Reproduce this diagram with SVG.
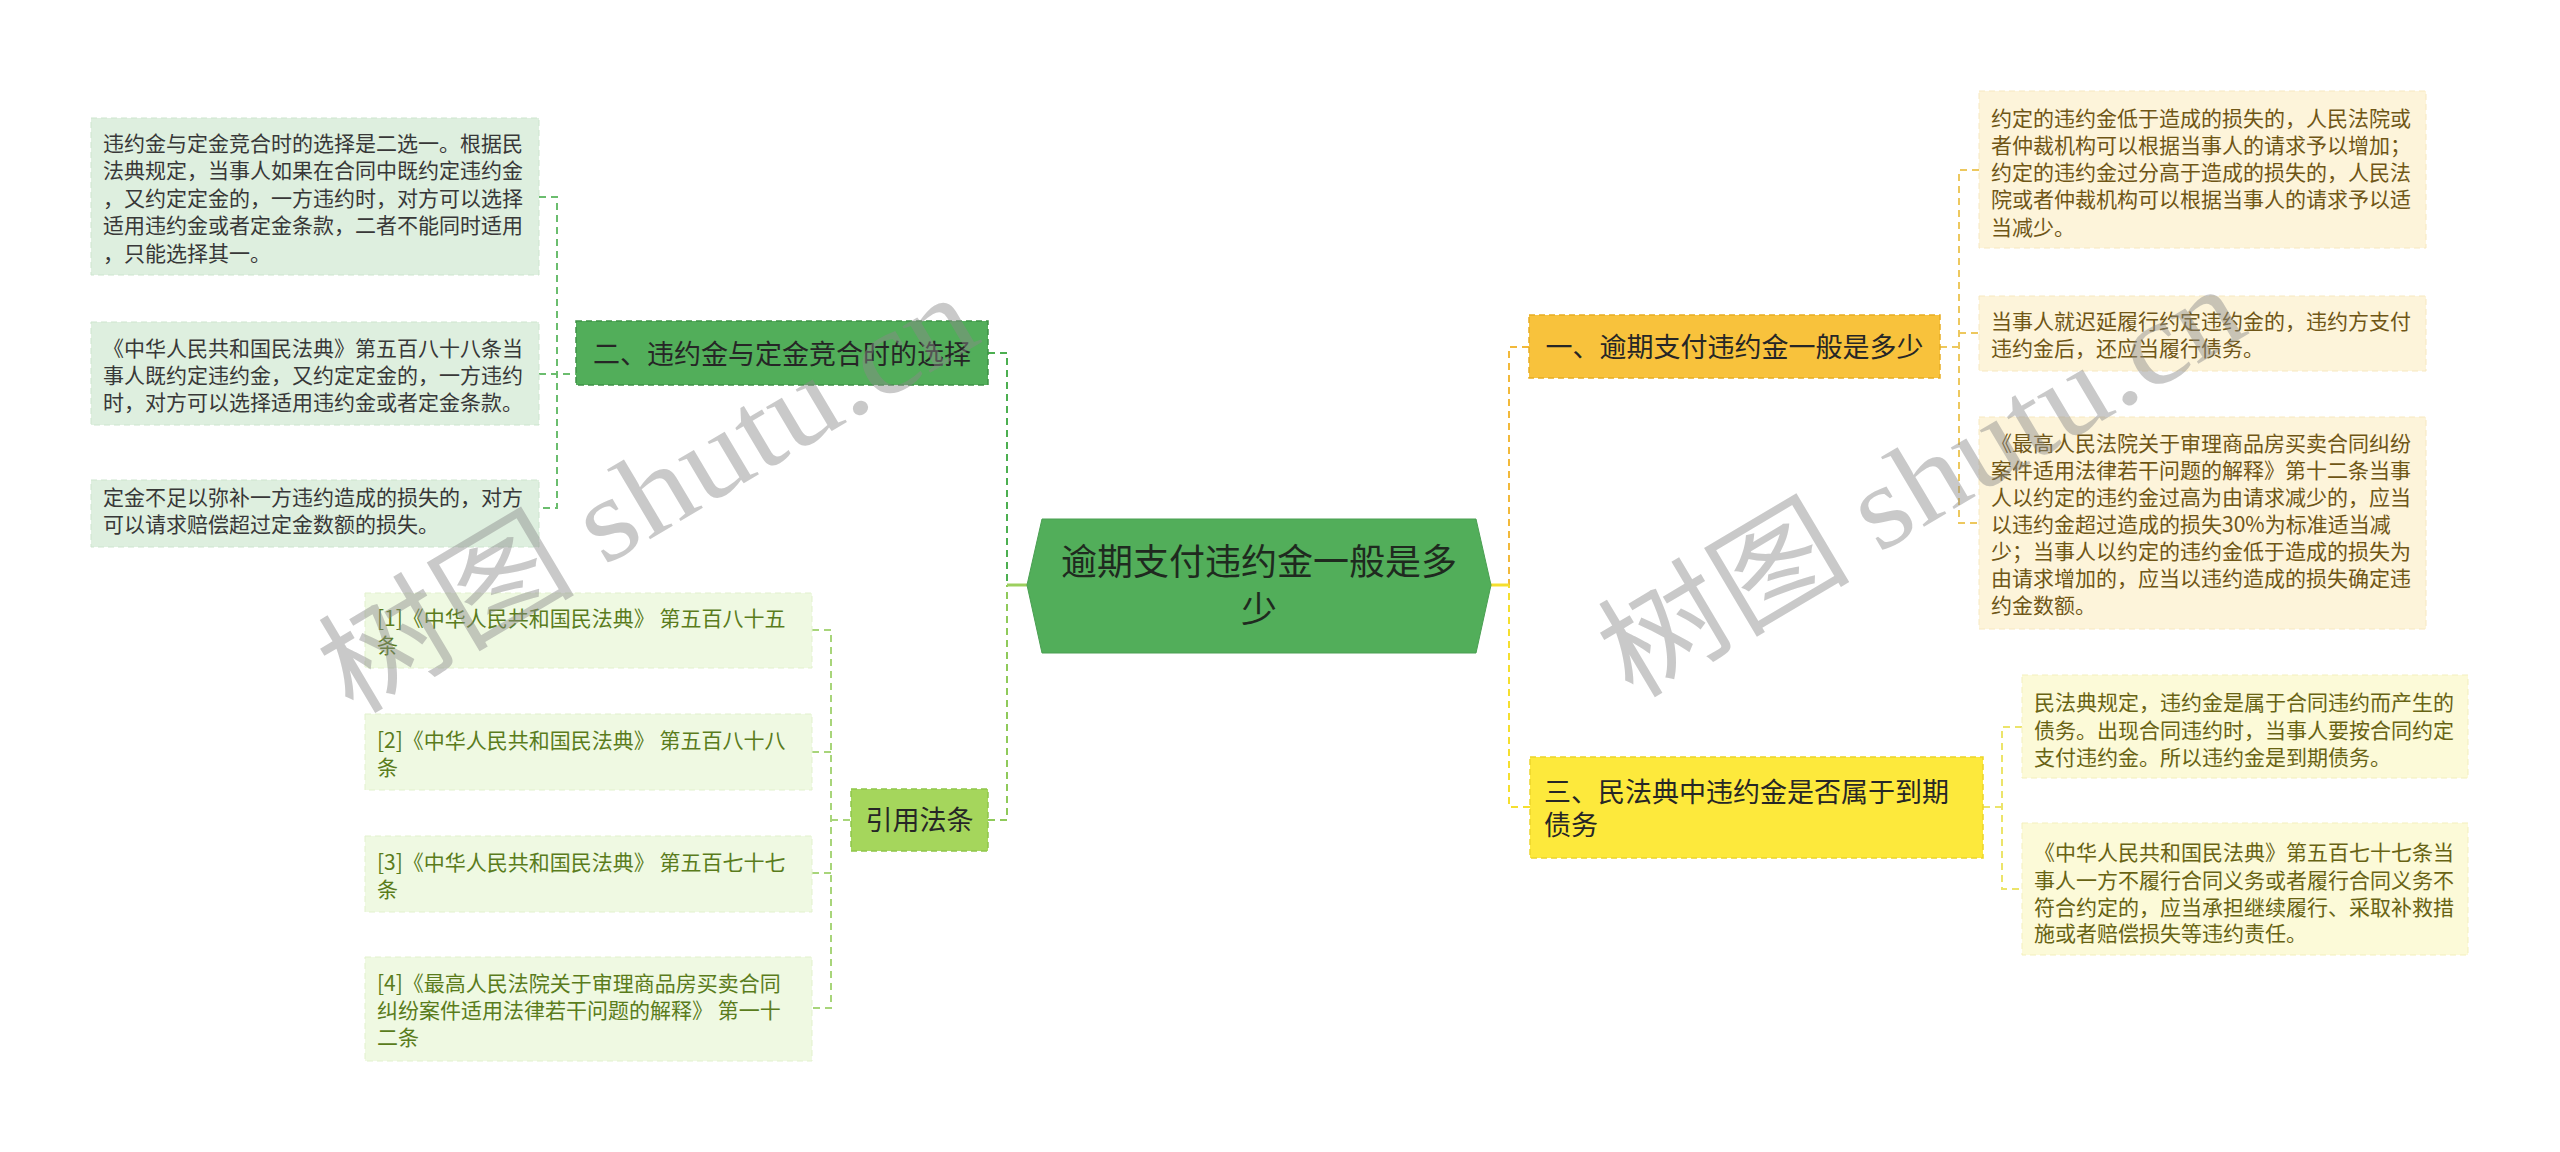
<svg xmlns="http://www.w3.org/2000/svg" width="2560" height="1152" viewBox="0 0 2560 1152">
<style>
text{font-family:"Noto Sans CJK SC","Noto Sans",sans-serif}
.t21{font-size:21px}
.t27{font-size:27px;fill:#262626}
.t36{font-size:36px;fill:#1f2a1f}
.c{fill:none;stroke-width:2;stroke-dasharray:7 5}
.g1{stroke:#4caf50}
.g2{stroke:#8fca5a}
.g3{stroke:#a8d57a}
.gd{stroke:#6bbd6e}
.o1{stroke:#f2b93a}
.o2{stroke:#edc85e}
.y1{stroke:#f5df2e}
.y2{stroke:#ece46a}
.lf-g rect{fill:#deefdf;stroke:#cde5ce;stroke-dasharray:6 4}
.lf-g text{fill:#383838}
.lf-c rect{fill:#eff9e2;stroke:#e2f1cd;stroke-dasharray:6 4}
.lf-c text{fill:#5a7c1c}
.lf-o rect{fill:#fdf4da;stroke:#f7e8c0;stroke-dasharray:6 4}
.lf-o text{fill:#6f5616}
.lf-y rect{fill:#fcfad8;stroke:#f3efbc;stroke-dasharray:6 4}
.lf-y text{fill:#686314}
.wm{fill:#8a8a8a;opacity:0.45;font-size:118px}
</style>

<g id="connectors">
  <path class="c g1" d="M988 353 H1007 V585"/>
  <path class="c g2" d="M988 820 H1007 V585"/>
  <path d="M1007 585 H1027" stroke="#9ccf5e" stroke-width="3" fill="none"/>
  <path class="c o1" d="M1529 347 H1509 V585"/>
  <path class="c y1" d="M1530 807 H1509 V585"/>
  <path d="M1491 585 H1509" stroke="#f5df2e" stroke-width="3" fill="none"/>
  <path class="c gd" d="M539 197 H557 V508 H539 M539 374 H576"/>
  <path class="c g3" d="M812 630 H831 V1008 H812 M812 752 H831 M812 873 H831 M831 820 H851"/>
  <path class="c o2" d="M1940 347 H1959 M1979 170 H1959 V523 H1979 M1959 333 H1979"/>
  <path class="c y2" d="M1983 807 H2002 M2022 727 H2002 V889 H2022"/>
</g>

<g id="root">
  <polygon points="1027,585 1042,519 1476,519 1491,585 1476,653 1042,653" fill="#52ae5a" stroke="#4a9f52" stroke-width="1"/>
  <text class="t36" x="1259" y="575" text-anchor="middle">逾期支付违约金一般是多</text>
  <text class="t36" x="1259" y="623" text-anchor="middle">少</text>
</g>

<g id="branch-2">
  <rect x="576" y="321" width="412" height="64" fill="#52ae5a" stroke="#3f9247" stroke-width="1.5" stroke-dasharray="6 4"/>
  <text class="t27" x="782" y="364" text-anchor="middle">二、违约金与定金竞合时的选择</text>
</g>

<g id="leaf-2-1" class="lf-g">
  <rect x="91" y="118" width="448" height="157"/>
  <text class="t21" x="103" y="151">违约金与定金竞合时的选择是二选一。根据民</text>
  <text class="t21" x="103" y="178">法典规定，当事人如果在合同中既约定违约金</text>
  <text class="t21" x="103" y="206">，又约定定金的，一方违约时，对方可以选择</text>
  <text class="t21" x="103" y="233">适用违约金或者定金条款，二者不能同时适用</text>
  <text class="t21" x="103" y="261">，只能选择其一。</text>
</g>
<g id="leaf-2-2" class="lf-g">
  <rect x="91" y="322" width="448" height="103"/>
  <text class="t21" x="103" y="356">《中华人民共和国民法典》第五百八十八条当</text>
  <text class="t21" x="103" y="383">事人既约定违约金，又约定定金的，一方违约</text>
  <text class="t21" x="103" y="410">时，对方可以选择适用违约金或者定金条款。</text>
</g>
<g id="leaf-2-3" class="lf-g">
  <rect x="91" y="480" width="448" height="67"/>
  <text class="t21" x="103" y="505">定金不足以弥补一方违约造成的损失的，对方</text>
  <text class="t21" x="103" y="532">可以请求赔偿超过定金数额的损失。</text>
</g>

<g id="branch-ref">
  <rect x="851" y="789" width="137" height="62" fill="#a5d65c" stroke="#8fc64a" stroke-width="1.5" stroke-dasharray="6 4"/>
  <text class="t27" x="919.5" y="830" text-anchor="middle">引用法条</text>
</g>
<g id="ref-1" class="lf-c">
  <rect x="365" y="593" width="447" height="75"/>
  <text class="t21" x="377" y="626">[1]《中华人民共和国民法典》 第五百八十五</text>
  <text class="t21" x="377" y="653">条</text>
</g>
<g id="ref-2" class="lf-c">
  <rect x="365" y="714" width="447" height="76"/>
  <text class="t21" x="377" y="748">[2]《中华人民共和国民法典》 第五百八十八</text>
  <text class="t21" x="377" y="775">条</text>
</g>
<g id="ref-3" class="lf-c">
  <rect x="365" y="836" width="447" height="76"/>
  <text class="t21" x="377" y="870">[3]《中华人民共和国民法典》 第五百七十七</text>
  <text class="t21" x="377" y="897">条</text>
</g>
<g id="ref-4" class="lf-c">
  <rect x="365" y="957" width="447" height="104"/>
  <text class="t21" x="377" y="991">[4]《最高人民法院关于审理商品房买卖合同</text>
  <text class="t21" x="377" y="1018">纠纷案件适用法律若干问题的解释》 第一十</text>
  <text class="t21" x="377" y="1045">二条</text>
</g>

<g id="branch-1">
  <rect x="1529" y="315" width="411" height="63" fill="#f8c23c" stroke="#e8ad22" stroke-width="1.5" stroke-dasharray="6 4"/>
  <text class="t27" x="1734.5" y="357" text-anchor="middle">一、逾期支付违约金一般是多少</text>
</g>
<g id="leaf-1-1" class="lf-o">
  <rect x="1979" y="91" width="447" height="157"/>
  <text class="t21" x="1991" y="126">约定的违约金低于造成的损失的，人民法院或</text>
  <text class="t21" x="1991" y="153">者仲裁机构可以根据当事人的请求予以增加；</text>
  <text class="t21" x="1991" y="180">约定的违约金过分高于造成的损失的，人民法</text>
  <text class="t21" x="1991" y="207">院或者仲裁机构可以根据当事人的请求予以适</text>
  <text class="t21" x="1991" y="235">当减少。</text>
</g>
<g id="leaf-1-2" class="lf-o">
  <rect x="1979" y="296" width="447" height="75"/>
  <text class="t21" x="1991" y="329">当事人就迟延履行约定违约金的，违约方支付</text>
  <text class="t21" x="1991" y="356">违约金后，还应当履行债务。</text>
</g>
<g id="leaf-1-3" class="lf-o">
  <rect x="1979" y="417" width="447" height="212"/>
  <text class="t21" x="1991" y="451">《最高人民法院关于审理商品房买卖合同纠纷</text>
  <text class="t21" x="1991" y="478">案件适用法律若干问题的解释》第十二条当事</text>
  <text class="t21" x="1991" y="505">人以约定的违约金过高为由请求减少的，应当</text>
  <text class="t21" x="1991" y="532">以违约金超过造成的损失30%为标准适当减</text>
  <text class="t21" x="1991" y="559">少；当事人以约定的违约金低于造成的损失为</text>
  <text class="t21" x="1991" y="586">由请求增加的，应当以违约造成的损失确定违</text>
  <text class="t21" x="1991" y="613">约金数额。</text>
</g>

<g id="branch-3">
  <rect x="1530" y="757" width="453" height="101" fill="#fde93c" stroke="#ecd52a" stroke-width="1.5" stroke-dasharray="6 4"/>
  <text class="t27" x="1544" y="802">三、民法典中违约金是否属于到期</text>
  <text class="t27" x="1544" y="835">债务</text>
</g>
<g id="leaf-3-1" class="lf-y">
  <rect x="2022" y="675" width="446" height="103"/>
  <text class="t21" x="2034" y="710">民法典规定，违约金是属于合同违约而产生的</text>
  <text class="t21" x="2034" y="738">债务。出现合同违约时，当事人要按合同约定</text>
  <text class="t21" x="2034" y="765">支付违约金。所以违约金是到期债务。</text>
</g>
<g id="leaf-3-2" class="lf-y">
  <rect x="2022" y="823" width="446" height="132"/>
  <text class="t21" x="2034" y="860">《中华人民共和国民法典》第五百七十七条当</text>
  <text class="t21" x="2034" y="888">事人一方不履行合同义务或者履行合同义务不</text>
  <text class="t21" x="2034" y="915">符合约定的，应当承担继续履行、采取补救措</text>
  <text class="t21" x="2034" y="941">施或者赔偿损失等违约责任。</text>
</g>

<g id="watermark">
  <text class="wm" transform="translate(352 716) rotate(-30.7)" textLength="735" lengthAdjust="spacingAndGlyphs"><tspan>树图 </tspan><tspan font-family="'Liberation Serif',serif">shutu.cn</tspan></text>
  <text class="wm" transform="translate(1632 700) rotate(-30.7)" textLength="720" lengthAdjust="spacingAndGlyphs"><tspan>树图 </tspan><tspan font-family="'Liberation Serif',serif">shutu.cn</tspan></text>
</g>
</svg>
